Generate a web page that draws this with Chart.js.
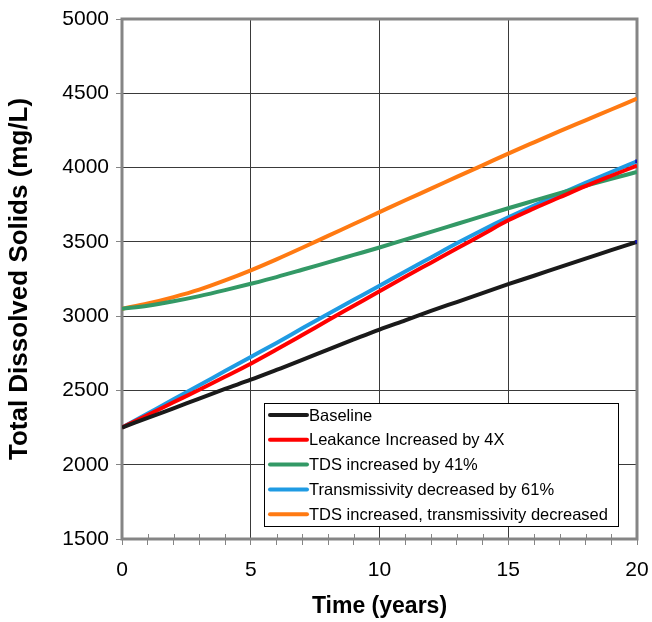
<!DOCTYPE html>
<html>
<head>
<meta charset="utf-8">
<script src="https://cdn.jsdelivr.net/npm/chart.js@4.4.1/dist/chart.umd.min.js"></script>
<style>
    html, body { margin: 0; padding: 0; background: #fff; }
    #wrap { width: 652px; height: 622px; }
</style>
</head>
<body>
<div id="wrap"><canvas id="tdsChart" width="652" height="622"></canvas></div>
<script>
// Years (x axis)
const years = [0, 1, 2, 3, 4, 5, 6, 7, 8, 9, 10, 11, 12, 13, 14, 15, 16, 17, 18, 19, 20];

// TDS values in mg/L
const baseline = [2250, 2315, 2380, 2445, 2510, 2572, 2638, 2705, 2775, 2843, 2910, 2972, 3035, 3095, 3155, 3215, 3272, 3330, 3387, 3445, 3500];
const leakance = [2250, 2335, 2420, 2505, 2592, 2680, 2775, 2873, 2972, 3070, 3168, 3265, 3360, 3455, 3550, 3645, 3725, 3800, 3875, 3945, 4013];
const tdsUp = [3050, 3070, 3100, 3135, 3175, 3218, 3263, 3312, 3362, 3412, 3462, 3515, 3567, 3620, 3673, 3726, 3777, 3828, 3877, 3925, 3970];
const transDown = [2250, 2345, 2440, 2535, 2630, 2725, 2820, 2918, 3015, 3110, 3205, 3300, 3395, 3490, 3580, 3665, 3745, 3822, 3897, 3970, 4042];
const tdsUpTransDown = [3050, 3085, 3128, 3178, 3240, 3308, 3382, 3460, 3540, 3620, 3700, 3780, 3858, 3937, 4015, 4094, 4170, 4245, 4318, 4391, 4464];

const seriesNames = [
    'Baseline',
    'Leakance Increased by 4X',
    'TDS increased by 41%',
    'Transmissivity decreased by 61%',
    'TDS increased, transmissivity decreased'
];
const seriesValues = [baseline, leakance, tdsUp, transDown, tdsUpTransDown];
const seriesColors = ['#1a1a1a', '#ff0000', '#339966', '#1f9be3', '#ff7a12'];
// series that show a small dark end marker at year 20
const endMarker = [true, false, false, true, false];

const yTicks = [1500, 2000, 2500, 3000, 3500, 4000, 4500, 5000];

const AXIS_GRAY = '#858585';
const GRID = '#3a3a3a';
const FONT = '"Liberation Sans", Arial, sans-serif';

// Helper: turn one series into {x, y} points
const toPoints = (values) => values.map((v, i) => ({ x: years[i], y: v }));

const datasets = seriesValues.map((values, i) => ({
    label: seriesNames[i],
    data: toPoints(values),
    borderColor: seriesColors[i],
    backgroundColor: seriesColors[i],
    borderWidth: 4,
    cubicInterpolationMode: 'monotone',
    pointStyle: 'rect',
    pointRadius: values.map((v, j) => (endMarker[i] && j === values.length - 1 ? 2.5 : 0)),
    pointBackgroundColor: '#1010b0',
    pointBorderColor: '#1010b0',
    pointBorderWidth: 0,
    fill: false
}));

// Chart area frame + inside minor ticks on x axis
const framePlugin = {
    id: 'frame',
    beforeDatasetsDraw(chart) {
        const { ctx, chartArea: a, scales } = chart;
        ctx.save();
        ctx.strokeStyle = AXIS_GRAY;
        ctx.lineWidth = 1;
        for (const yr of years) {
            if (yr % 5 === 0) continue;
            const px = Math.round(scales.x.getPixelForValue(yr)) + 0.5;
            ctx.beginPath();
            ctx.moveTo(px, a.bottom);
            ctx.lineTo(px, a.bottom - 5);
            ctx.stroke();
        }
        ctx.lineWidth = 3;
        ctx.strokeRect(a.left, a.top, a.right - a.left, a.bottom - a.top);
        ctx.restore();
    }
};

// Boxed legend inside the plot, bottom right
const boxLegend = {
    id: 'boxLegend',
    afterDraw(chart) {
        const { ctx } = chart;
        const left = 264, top = 403, right = 618, bottom = 526;
        ctx.save();
        ctx.fillStyle = '#fff';
        ctx.fillRect(left, top, right - left, bottom - top);
        ctx.strokeStyle = '#000';
        ctx.lineWidth = 1;
        ctx.strokeRect(left + 0.5, top + 0.5, right - left, bottom - top);
        ctx.font = '16.5px ' + FONT;
        ctx.textBaseline = 'middle';
        chart.data.datasets.forEach((ds, i) => {
            const y = 415 + i * 24.8;
            ctx.strokeStyle = ds.borderColor;
            ctx.lineWidth = 4;
            ctx.lineCap = 'round';
            ctx.beginPath();
            ctx.moveTo(270, y);
            ctx.lineTo(307, y);
            ctx.stroke();
            ctx.fillStyle = '#000';
            ctx.fillText(ds.label, 309, y + 1);
        });
        ctx.restore();
    }
};

const ctx = document.getElementById('tdsChart').getContext('2d');

new Chart(ctx, {
    type: 'line',
    data: { datasets: datasets },
    plugins: [framePlugin, boxLegend],
    options: {
        responsive: false,
        animation: false,
        layout: { padding: { top: 19, right: 15, left: 0, bottom: 0 } },
        plugins: {
            legend: { display: false },
            tooltip: { enabled: false }
        },
        scales: {
            x: {
                type: 'linear',
                min: 0,
                max: 20,
                afterFit: (scale) => {
                    scale.height = 83;
                    scale.paddingLeft = 0;
                    scale.paddingRight = 0;
                },
                border: { display: false },
                grid: {
                    color: (c) => (c.tick && c.tick.value % 5 === 0 ? GRID : 'rgba(0,0,0,0)'),
                    tickColor: AXIS_GRAY,
                    tickLength: 6,
                    lineWidth: 1
                },
                ticks: {
                    stepSize: 1,
                    autoSkip: false,
                    maxRotation: 0,
                    padding: 13,
                    color: '#000',
                    font: { family: FONT, size: 21 },
                    callback: (v) => (v % 5 === 0 ? String(v) : '')
                },
                title: {
                    display: true,
                    text: 'Time (years)',
                    color: '#000',
                    font: { family: FONT, size: 23, weight: 'bold' },
                    padding: { top: 0, bottom: 2 }
                }
            },
            y: {
                min: 1500,
                max: 5000,
                afterFit: (scale) => {
                    scale.width = 122;
                    scale.paddingTop = 0;
                    scale.paddingBottom = 0;
                },
                afterBuildTicks: (scale) => { scale.ticks = yTicks.map(v => ({ value: v })); },
                border: { display: false },
                grid: {
                    color: GRID,
                    tickColor: AXIS_GRAY,
                    tickLength: 6,
                    lineWidth: 1
                },
                ticks: {
                    padding: 7,
                    color: '#000',
                    font: { family: FONT, size: 21 },
                    callback: (v) => String(v)
                },
                title: {
                    display: true,
                    text: 'Total Dissolved Solids (mg/L)',
                    color: '#000',
                    font: { family: FONT, size: 26, weight: 'bold' },
                    padding: { top: 4, bottom: 0 }
                }
            }
        }
    }
});
</script>
</body>
</html>
